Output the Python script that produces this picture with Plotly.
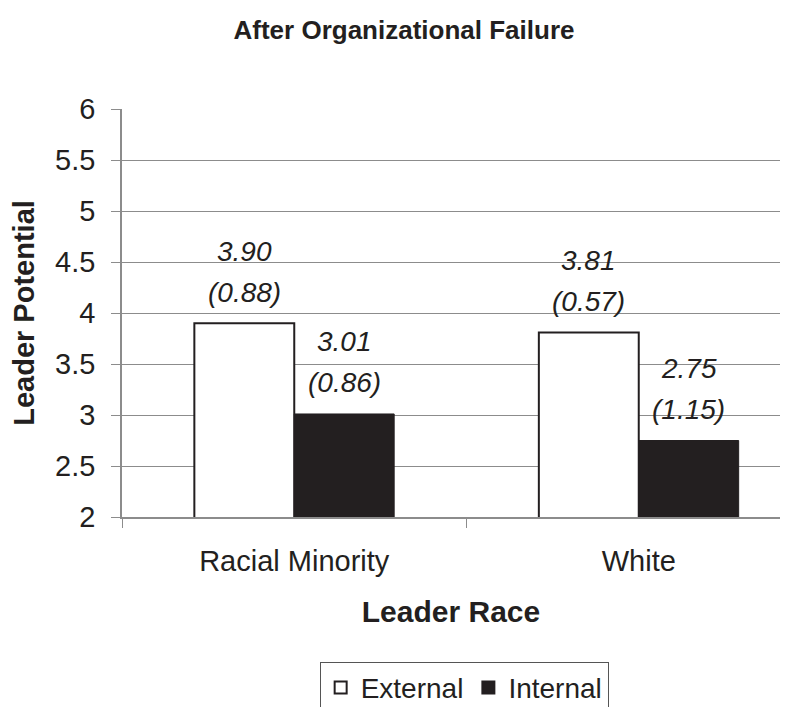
import plotly.graph_objects as go

categories = ["Racial Minority", "White"]
external_means = [3.90, 3.81]
internal_means = [3.01, 2.75]
external_sds = [0.88, 0.57]
internal_sds = [0.86, 1.15]
y_ticks = [2, 2.5, 3, 3.5, 4, 4.5, 5, 5.5, 6]
y_ticklabels = ["2", "2.5", "3", "3.5", "4", "4.5", "5", "5.5", "6"]

DARK = "#231f20"
GRID = "#8c8c8c"
FONT = "Liberation Sans, Arial, sans-serif"

# page body has an 8px margin; size the figure so it fits the 805x715 window
W, H = 789, 699

fig = go.Figure()
fig.add_trace(go.Bar(name="External", x=categories, y=external_means,
                     marker=dict(color="white", line=dict(color=DARK, width=2)),
                     base=0))
fig.add_trace(go.Bar(name="Internal", x=categories, y=internal_means,
                     marker=dict(color=DARK, line=dict(color=DARK, width=1)),
                     base=0))

bargap = 0.42
half = (1 - bargap) / 4  # offset of each bar center from category center
annotations = []
for i in range(len(categories)):
    for offs, mean, sd in ((-half, external_means[i], external_sds[i]),
                           (half, internal_means[i], internal_sds[i])):
        annotations.append(dict(x=i + offs, y=mean, xref="x", yref="y",
                                text=f"<i>{mean:.2f}</i>", showarrow=False,
                                yanchor="middle", yshift=72,
                                font=dict(size=28, color=DARK, family=FONT)))
        annotations.append(dict(x=i + offs, y=mean, xref="x", yref="y",
                                text=f"<i>({sd:.2f})</i>", showarrow=False,
                                yanchor="middle", yshift=31,
                                font=dict(size=28, color=DARK, family=FONT)))

fig.update_layout(
    width=W, height=H,
    margin=dict(l=114, r=17, t=101, b=190, autoexpand=False),
    paper_bgcolor="white", plot_bgcolor="white",
    barmode="group", bargap=bargap, bargroupgap=0,
    font=dict(family=FONT, color=DARK),
    title=dict(text="<b>After Organizational Failure</b>", x=396 / W, xref="container",
               xanchor="center", y=1 - 22 / H, yanchor="middle",
               font=dict(size=26, color=DARK, family=FONT)),
    xaxis=dict(range=[-0.5, 1.41], showline=True, linecolor=GRID, linewidth=1.5,
               ticks="outside", tickson="boundaries", ticklen=9, tickcolor=GRID,
               tickfont=dict(size=29, color=DARK), ticklabelstandoff=17,
               title=dict(text="<b>Leader Race</b>", font=dict(size=30, color=DARK),
                          standoff=25),
               showgrid=False, fixedrange=True, automargin=False),
    yaxis=dict(range=[2, 6], tickvals=y_ticks, ticktext=y_ticklabels,
               showline=True, linecolor=GRID, linewidth=1.5,
               ticks="outside", ticklen=9, tickcolor=GRID,
               tickfont=dict(size=29, color=DARK), ticklabelstandoff=10,
               showgrid=True, gridcolor=GRID, gridwidth=1, zeroline=False,
               automargin=False,
               title=dict(text="<b>Leader Potential</b>", font=dict(size=29, color=DARK),
                          standoff=12)),
    legend=dict(orientation="h", x=0.52, xanchor="center", y=-0.355, yanchor="top",
                bordercolor="#555555", borderwidth=1, bgcolor="white",
                font=dict(size=28, color=DARK), itemsizing="constant",
                traceorder="normal"),
    annotations=annotations,
)

fig.write_html("out.html")
